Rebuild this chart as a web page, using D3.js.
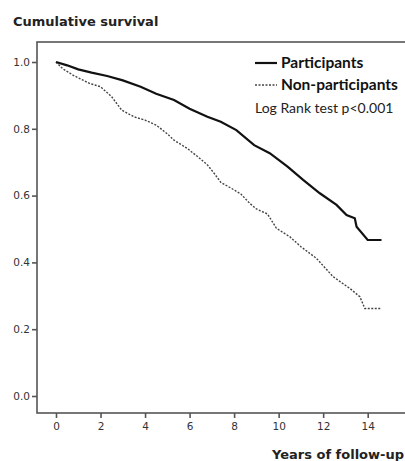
<!DOCTYPE html>
<html>
<head>
<meta charset="utf-8">
<script src="https://cdn.jsdelivr.net/npm/d3@7"></script>
<style>
  body { margin: 0; background: #fff; }
  svg { display: block; }
</style>
</head>
<body>
<div id="chart"></div>
<script>
// Kaplan-Meier curves (years, cumulative survival)
var partYears = [0, 0.5, 1.0, 1.6, 2.3, 3.0, 3.8, 4.5, 5.3, 6.0, 6.8, 7.4, 8.1, 8.9, 9.6, 10.4, 11.1, 11.85, 12.6, 13.05, 13.42, 13.5, 14.0, 14.62];
var partSurv  = [1.0, 0.99, 0.978, 0.968, 0.958, 0.945, 0.926, 0.905, 0.886, 0.86, 0.836, 0.821, 0.796, 0.751, 0.727, 0.687, 0.647, 0.607, 0.572, 0.542, 0.532, 0.507, 0.467, 0.467];

var nonYears = [0, 0.3, 0.78, 1.5, 2.0, 2.5, 2.95, 3.5, 4.0, 4.5, 5.0, 5.3, 5.9, 6.3, 6.8, 7.1, 7.4, 8.0, 8.3, 8.7, 9.0, 9.5, 9.9, 10.5, 11.0, 11.7, 12.45, 13.2, 13.65, 13.87, 14.62];
var nonSurv  = [1.0, 0.98, 0.96, 0.936, 0.926, 0.896, 0.856, 0.836, 0.826, 0.811, 0.785, 0.766, 0.741, 0.72, 0.692, 0.667, 0.64, 0.617, 0.605, 0.577, 0.56, 0.545, 0.502, 0.477, 0.447, 0.412, 0.357, 0.322, 0.297, 0.262, 0.262];

var xTicks = [0, 2, 4, 6, 8, 10, 12, 14];
var yTicks = [0, 0.2, 0.4, 0.6, 0.8, 1.0];

var width = 405, height = 461;
var frameLeft = 37, frameTop = 42, frameBottom = 413;

var svg = d3.select("#chart").append("svg")
    .attr("width", width)
    .attr("height", height);

var x = d3.scaleLinear().domain([0, 14]).range([56, 367.7]);
var y = d3.scaleLinear().domain([0, 1]).range([396, 62]);

// frame (right edge falls outside the picture)
svg.append("rect")
    .attr("x", frameLeft).attr("y", frameTop)
    .attr("width", width + 5 - frameLeft)
    .attr("height", frameBottom - frameTop)
    .attr("fill", "none")
    .attr("stroke", "#555")
    .attr("stroke-width", 1.6);

var yAxis = svg.append("g")
    .attr("transform", "translate(" + frameLeft + ",0)")
    .call(d3.axisLeft(y).tickValues(yTicks).tickFormat(d3.format(".1f")).tickSize(5).tickPadding(2));

var xAxis = svg.append("g")
    .attr("transform", "translate(0," + frameBottom + ")")
    .call(d3.axisBottom(x).tickValues(xTicks).tickSize(5).tickPadding(5));

[yAxis, xAxis].forEach(function(g) {
    g.select(".domain").remove();
    g.selectAll("line").attr("stroke", "#555").attr("stroke-width", 1.6);
    g.selectAll("text")
        .attr("fill", "#333")
        .style("font-family", "DejaVu Sans")
        .style("font-size", "10.5px");
});

var line = d3.line()
    .x(function(d) { return x(d[0]); })
    .y(function(d) { return y(d[1]); });

svg.append("path")
    .datum(d3.zip(nonYears, nonSurv))
    .attr("d", line)
    .attr("fill", "none")
    .attr("stroke", "#444")
    .attr("stroke-width", 1.4)
    .attr("stroke-dasharray", "2,1.5");

svg.append("path")
    .datum(d3.zip(partYears, partSurv))
    .attr("d", line)
    .attr("fill", "none")
    .attr("stroke", "#111")
    .attr("stroke-width", 2.2);

// titles
svg.append("text")
    .attr("x", 13).attr("y", 26)
    .style("font-family", "DejaVu Sans")
    .style("font-weight", "bold")
    .style("font-size", "13px")
    .attr("fill", "#222")
    .text("Cumulative survival");

svg.append("text")
    .attr("x", 272).attr("y", 459)
    .style("font-family", "DejaVu Sans")
    .style("font-weight", "bold")
    .style("font-size", "13px")
    .attr("fill", "#222")
    .text("Years of follow-up");

// legend
var legend = svg.append("g");
legend.append("line")
    .attr("x1", 255).attr("x2", 277).attr("y1", 63).attr("y2", 63)
    .attr("stroke", "#111").attr("stroke-width", 2.2);
legend.append("line")
    .attr("x1", 255).attr("x2", 277).attr("y1", 85).attr("y2", 85)
    .attr("stroke", "#444").attr("stroke-width", 1.4)
    .attr("stroke-dasharray", "2,1.5");
legend.append("text")
    .attr("x", 281).attr("y", 68)
    .style("font-family", "Lato").style("font-weight", "bold").style("font-size", "15.5px")
    .attr("fill", "#111")
    .text("Participants");
legend.append("text")
    .attr("x", 281).attr("y", 90)
    .style("font-family", "Lato").style("font-weight", "bold").style("font-size", "15.5px")
    .attr("fill", "#111")
    .text("Non-participants");
legend.append("text")
    .attr("x", 255).attr("y", 113)
    .style("font-family", "Lato").style("font-size", "14px")
    .attr("fill", "#222")
    .text("Log Rank test p<0.001");
</script>
</body>
</html>
